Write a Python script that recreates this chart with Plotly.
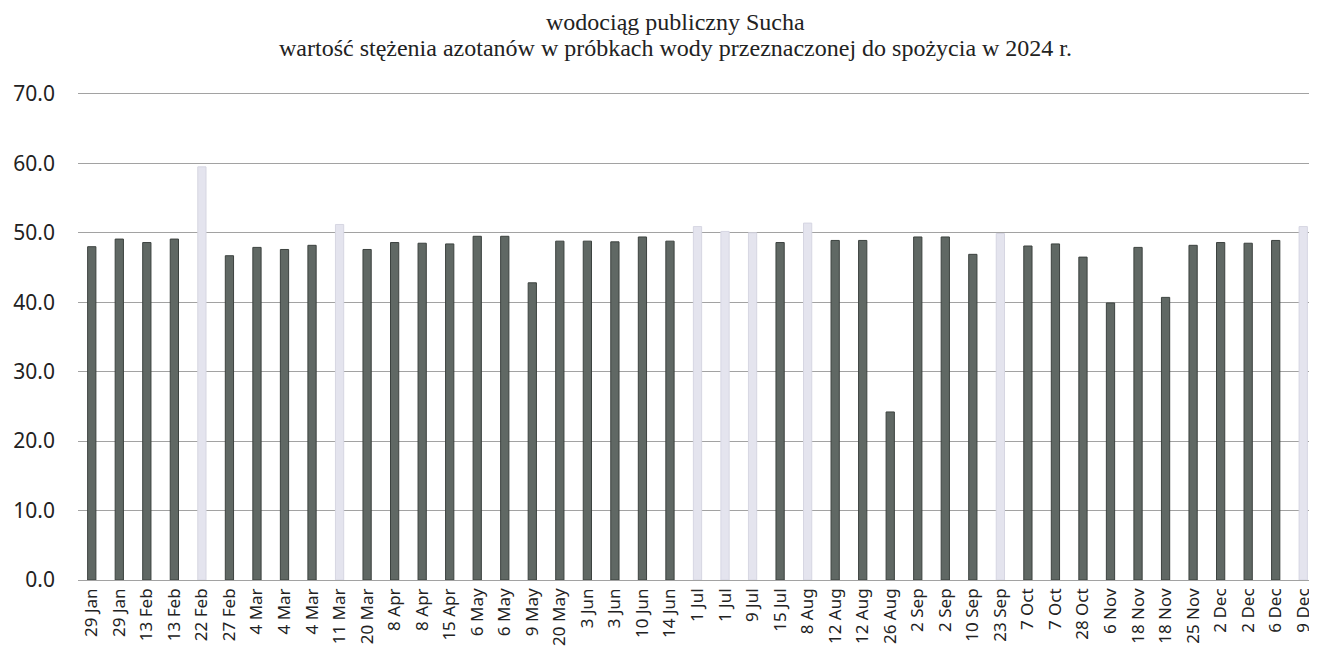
import plotly.graph_objects as go

dates = ["29 Jan", "29 Jan", "13 Feb", "13 Feb", "22 Feb", "27 Feb", "4 Mar", "4 Mar", "4 Mar",
         "11 Mar", "20 Mar", "8 Apr", "8 Apr", "15 Apr", "6 May", "6 May", "9 May", "20 May",
         "3 Jun", "3 Jun", "10 Jun", "14 Jun", "1 Jul", "1 Jul", "9 Jul", "15 Jul", "8 Aug",
         "12 Aug", "12 Aug", "26 Aug", "2 Sep", "2 Sep", "10 Sep", "23 Sep", "7 Oct", "7 Oct",
         "28 Oct", "6 Nov", "18 Nov", "18 Nov", "25 Nov", "2 Dec", "2 Dec", "6 Dec", "9 Dec"]

values = [48.0, 49.1, 48.6, 49.1, 59.5, 46.7, 47.9, 47.6, 48.2,
          51.2, 47.6, 48.6, 48.5, 48.4, 49.5, 49.5, 42.8, 48.8,
          48.8, 48.7, 49.4, 48.8, 50.9, 50.2, 50.0, 48.6, 51.4,
          48.9, 48.9, 24.2, 49.4, 49.4, 46.9, 49.9, 48.1, 48.4,
          46.5, 39.9, 47.9, 40.7, 48.2, 48.6, 48.5, 48.9, 50.9]

# sample group: "A" = dark bars, "B" = light bars
groups = ["A", "A", "A", "A", "B", "A", "A", "A", "A",
          "B", "A", "A", "A", "A", "A", "A", "A", "A",
          "A", "A", "A", "A", "B", "B", "B", "A", "B",
          "A", "A", "A", "A", "A", "A", "B", "A", "A",
          "A", "A", "A", "A", "A", "A", "A", "A", "B"]

y_ticks = [0, 10, 20, 30, 40, 50, 60, 70]

title_line1 = "wodociąg publiczny Sucha"
title_line2 = "wartość stężenia azotanów w próbkach wody przeznaczonej do spożycia w 2024 r."

idx = list(range(len(dates)))
vals_a = [v if g == "A" else None for v, g in zip(values, groups)]
vals_b = [v if g == "B" else None for v, g in zip(values, groups)]

fig = go.Figure()
fig.add_trace(go.Bar(x=idx, y=vals_a, width=0.3,
                     marker=dict(color="#606864", line=dict(color="#3c423f", width=1)),
                     showlegend=False))
fig.add_trace(go.Bar(x=idx, y=vals_b, width=0.3,
                     marker=dict(color="#e4e4ee", line=dict(color="#d6d6e2", width=1)),
                     showlegend=False))

# page has an 8px body margin, so the figure is 8px smaller than the window
W, H = 1309, 647
L, T, B, R = 70, 79, 75, 0
ph = H - T - B
pw = W - L - R
title_font = dict(family="Liberation Serif, Times New Roman, serif", size=24, color="#222")
title_x = (667 - L) / pw

fig.update_layout(
    width=W, height=H,
    margin=dict(l=L, r=R, t=T, b=B),
    paper_bgcolor="white", plot_bgcolor="white",
    barmode="overlay",
    annotations=[
        dict(text=title_line1, xref="paper", yref="paper",
             x=title_x, y=1 + (T - 14) / ph, xanchor="center", yanchor="middle",
             showarrow=False, font=title_font),
        dict(text=title_line2, xref="paper", yref="paper",
             x=title_x, y=1 + (T - 40) / ph, xanchor="center", yanchor="middle",
             showarrow=False, font=title_font),
    ],
    xaxis=dict(
        range=[-0.5, len(dates) - 0.5],
        tickmode="array", tickvals=idx, ticktext=dates,
        tickangle=-90, showgrid=False, zeroline=False, showline=False,
        tickfont=dict(family="Noto Sans, Open Sans, sans-serif", size=17, color="#222"),
        ticks="", ticklabelstandoff=4,
    ),
    yaxis=dict(
        range=[0, 71], tickmode="array", tickvals=y_ticks,
        ticktext=[f"{t:.1f}" for t in y_ticks],
        showgrid=True, gridcolor="#a2a2a2", gridwidth=1,
        zeroline=True, zerolinecolor="#a2a2a2", zerolinewidth=1,
        showline=False, ticks="", ticklabelstandoff=22,
        tickfont=dict(family="Noto Sans, Open Sans, sans-serif", size=21, color="#222"),
    ),
)

fig.write_html("out.html")
